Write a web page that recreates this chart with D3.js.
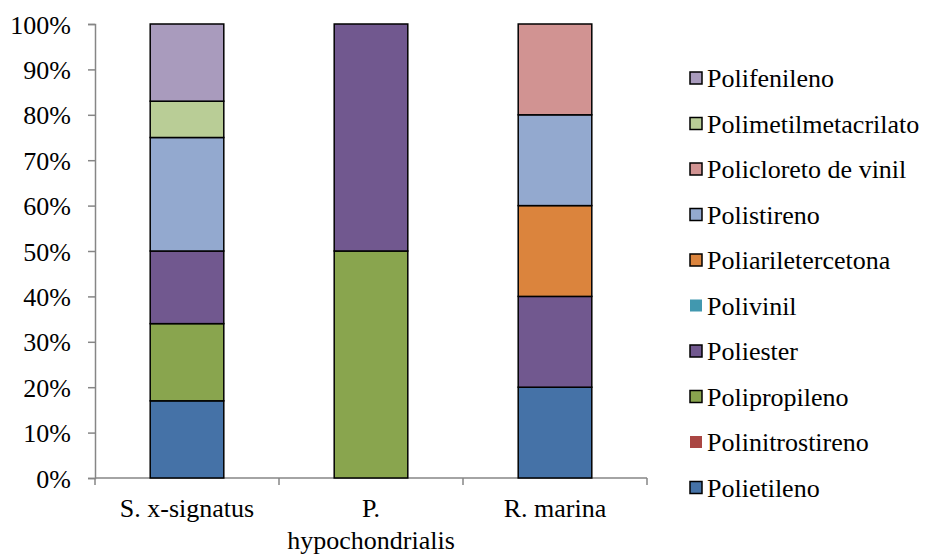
<!DOCTYPE html>
<html>
<head>
<meta charset="utf-8">
<script src="https://cdn.jsdelivr.net/npm/d3@7"></script>
</head>
<body style="margin:0">
<script>
// categories (species)
const species = ["S. x-signatus", "P. hypochondrialis", "R. marina"];

// polymer series, bottom to top of each stack
const polymers = ["Polietileno", "Polinitrostireno", "Polipropileno", "Poliester", "Polivinil",
  "Poliariletercetona", "Polistireno", "Policloreto de vinil", "Polimetilmetacrilato", "Polifenileno"];
const colors = ["#4572A7", "#AA4643", "#89A54E", "#71588F", "#4198AF",
  "#DB843D", "#93A9CF", "#D19392", "#B9CD96", "#A99BBD"];

// percentage of each polymer per species (same order as polymers)
const sxSignatus = [17, 0, 17, 16, 0, 0, 25, 0, 8, 17];
const pHypo = [0, 0, 50, 50, 0, 0, 0, 0, 0, 0];
const rMarina = [20, 0, 0, 20, 0, 20, 20, 20, 0, 0];

const yTicks = [0, 10, 20, 30, 40, 50, 60, 70, 80, 90, 100];

const W = 929, H = 554;
const margin = { top: 24, left: 95 };
const plotW = 552, plotH = 454;
const font = "'Liberation Serif'";
const fs = "26px";

const svg = d3.select("body").append("svg")
  .attr("width", W).attr("height", H);
const g = svg.append("g")
  .attr("transform", "translate(" + margin.left + "," + margin.top + ")");

const x = d3.scaleBand().domain(species).range([0, plotW]).padding(0);
const y = d3.scaleLinear().domain([0, 100]).range([plotH, 0]);
const color = d3.scaleOrdinal().domain(polymers).range(colors);

// build rows for d3.stack
const table = species.map((s, i) => {
  const vals = [sxSignatus, pHypo, rMarina][i];
  const row = { species: s };
  polymers.forEach((p, j) => row[p] = vals[j]);
  return row;
});
const stacked = d3.stack().keys(polymers)(table);

// y axis
const yAxis = g.append("g")
  .call(d3.axisLeft(y).tickValues(yTicks).tickSize(7).tickPadding(17).tickFormat(d => d + "%"));
yAxis.attr("font-family", null).attr("font-size", null);
yAxis.select(".domain").attr("stroke", "#868686").attr("stroke-width", 1.5);
yAxis.selectAll(".tick line").attr("stroke", "#868686").attr("stroke-width", 1.5);
yAxis.selectAll("text")
  .style("font-family", font).style("font-size", fs)
  .attr("fill", "#000").attr("dy", "0.35em");

// x axis line and separators
g.append("line")
  .attr("x1", 0).attr("x2", plotW).attr("y1", plotH).attr("y2", plotH)
  .attr("stroke", "#868686").attr("stroke-width", 1.5);
const seps = [0].concat(species.map(s => x(s) + x.bandwidth()));
g.selectAll(".sep").data(seps).enter().append("line")
  .attr("x1", d => d).attr("x2", d => d)
  .attr("y1", plotH).attr("y2", plotH + 7)
  .attr("stroke", "#868686").attr("stroke-width", 1.5);

// bars
const barW = x.bandwidth() * 0.4;
stacked.forEach(layer => {
  g.selectAll(null).data(layer.filter(d => d[1] - d[0] > 0)).enter().append("rect")
    .attr("x", d => x(d.data.species) + (x.bandwidth() - barW) / 2)
    .attr("y", d => y(d[1]))
    .attr("width", barW)
    .attr("height", d => y(d[0]) - y(d[1]))
    .attr("fill", color(layer.key))
    .attr("stroke", "#000")
    .attr("stroke-width", 1.5);
});

// category labels (wrapped like the original)
const labelLines = { "S. x-signatus": ["S. x-signatus"], "P. hypochondrialis": ["P.", "hypochondrialis"], "R. marina": ["R. marina"] };
species.forEach(s => {
  labelLines[s].forEach((line, k) => {
    g.append("text")
      .attr("x", x(s) + x.bandwidth() / 2)
      .attr("y", plotH + 39 + k * 32)
      .style("font-family", font).style("font-size", fs)
      .style("text-anchor", "middle")
      .text(line);
  });
});

// legend, top entry is last series
const legend = svg.append("g").attr("transform", "translate(690,78)");
polymers.slice().reverse().forEach((p, i) => {
  const hasData = [sxSignatus, pHypo, rMarina].some(a => a[polymers.indexOf(p)] > 0);
  const row = legend.append("g").attr("transform", "translate(0," + (i * 45.5) + ")");
  row.append("rect")
    .attr("x", 0).attr("y", -6).attr("width", 12).attr("height", 12)
    .attr("fill", color(p))
    .attr("stroke", hasData ? "#000" : "none")
    .attr("stroke-width", 1.5);
  row.append("text")
    .attr("x", 17).attr("y", 0).attr("dy", "0.35em")
    .style("font-family", font).style("font-size", fs)
    .text(p);
});
</script>
</body>
</html>
